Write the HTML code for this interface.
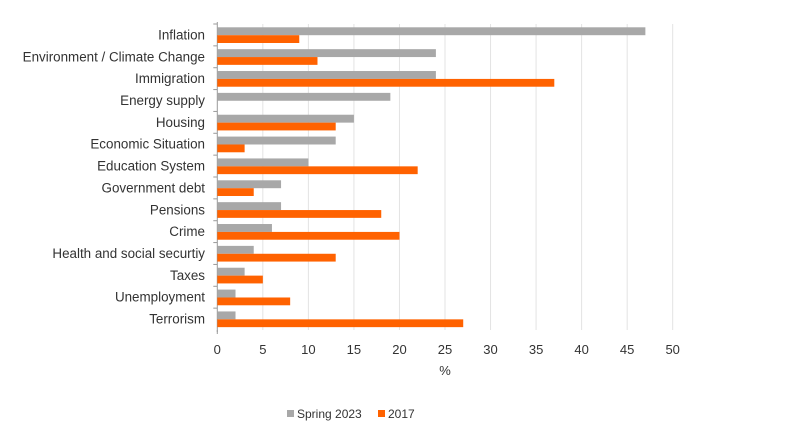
<!DOCTYPE html>
<html><head><meta charset="utf-8"><style>
body{margin:0;background:#fff;width:800px;height:442px;overflow:hidden}
svg text{font-family:"Liberation Sans",sans-serif;fill:#333}
</style></head><body>
<svg id="c" width="800" height="442"></svg>
<script>
const categories=["Inflation","Environment / Climate Change","Immigration","Energy supply","Housing","Economic Situation","Education System","Government debt","Pensions","Crime","Health and social securtiy","Taxes","Unemployment","Terrorism"];
const spring2023=[47,24,24,19,15,13,10,7,7,6,4,3,2,2];
const y2017=[9,11,37,0,13,3,22,4,18,20,13,5,8,27];
const ticks=[0,5,10,15,20,25,30,35,40,45,50];
const NS="http://www.w3.org/2000/svg";
const svg=document.getElementById('c');
const x0=217.3,x1=672.7,yTop=24,yBot=330;
const xs=v=>x0+(x1-x0)*v/50;
const rowH=(yBot-yTop)/categories.length;
function mk(t,a,p){const e=document.createElementNS(NS,t);for(const k in a)e.setAttribute(k,a[k]);(p||svg).appendChild(e);return e;}
ticks.forEach((t,i)=>{
 if(t>0){const g=mk('line',{x1:xs(t),x2:xs(t),y1:yTop,y2:yBot,stroke:'#e3e3e3','stroke-width':1});
 
 }
 const l=mk('text',{x:xs(t),y:354,'text-anchor':'middle','font-size':13});l.textContent=t;
 
 
});
const ax=mk('line',{x1:x0,x2:x0,y1:yTop-2,y2:yBot+2,stroke:'#999'});


categories.forEach((c,i)=>{
 const ry=yTop+i*rowH;
 const tk=mk('line',{x1:x0-4,x2:x0,y1:ry,y2:ry,stroke:'#999'});
 
 
 const l=mk('text',{x:205,y:ry+rowH/2+4.5,'text-anchor':'end','font-size':13.4});l.textContent=c;
 
 
 const b1=mk('rect',{x:x0,y:ry+3.3,width:xs(spring2023[i])-x0,height:7.9,fill:'#a8a8a8'});
 
 
 const b2=mk('rect',{x:x0,y:ry+11.2,width:xs(y2017[i])-x0,height:7.8,fill:'#ff6200'});
 
 
});
const bt=mk('line',{x1:x0,x2:x0,y1:yBot,y2:yBot+4,stroke:'#999'});


const xt=mk('text',{x:445,y:375,'text-anchor':'middle','font-size':13});xt.textContent='%';


const lg=mk('g',{});


const s1=mk('rect',{x:287,y:410,width:7,height:7,fill:'#a8a8a8'},lg);


const t1=mk('text',{x:297,y:418,'font-size':12},lg);t1.textContent='Spring 2023';


const s2=mk('rect',{x:378,y:410,width:7,height:7,fill:'#ff6200'},lg);


const t2=mk('text',{x:388,y:418,'font-size':12},lg);t2.textContent='2017';


</script>
</body></html>
